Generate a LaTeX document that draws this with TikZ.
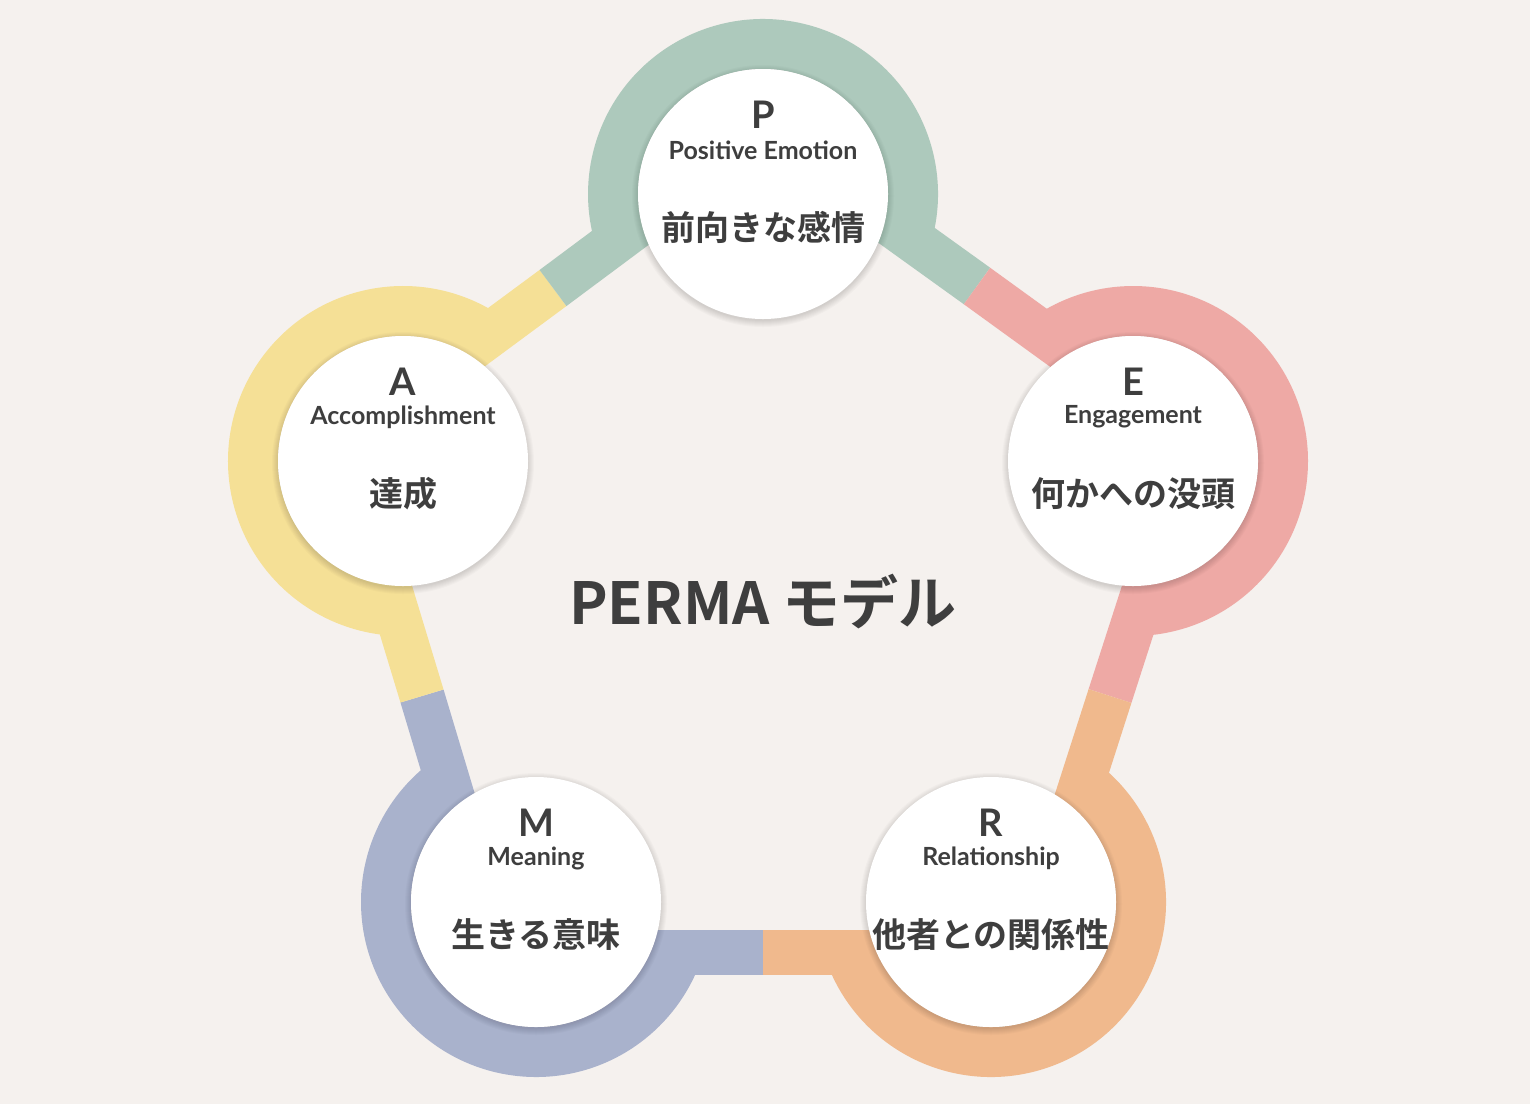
\documentclass[tikz,border=0pt]{standalone}
\usepackage{fontspec}
\setmainfont{Lato}
\newfontfamily\jp{Noto Sans CJK JP}[BoldFont={Noto Sans CJK JP Bold}]
\usetikzlibrary{calc}
\definecolor{bg}{HTML}{F5F1EE}
\definecolor{cP}{HTML}{ADC9BC}
\definecolor{cE}{HTML}{EEA9A5}
\definecolor{cR}{HTML}{F0B98D}
\definecolor{cM}{HTML}{A9B2CC}
\definecolor{cA}{HTML}{F5E096}
\definecolor{tx}{HTML}{3E3E3E}
\tikzset{
 band/.style={line width=45pt,line cap=butt},
 ringarc/.style={line width=50pt,line cap=butt},
 inner/.style={circle,fill=white,minimum size=250pt,inner sep=0pt},
 letter/.style={text=tx,font=\bfseries\fontsize{38}{38}\selectfont},
 eng/.style={text=tx,font=\bfseries\fontsize{25}{25}\selectfont},
 jap/.style={text=tx,font=\jp\bfseries\fontsize{34}{34}\selectfont},
}
\begin{document}
\begin{tikzpicture}[x=1pt,y=-1pt]
\fill[bg] (0,0) rectangle (1530,1104);
\useasboundingbox (0,0) rectangle (1530,1104);
\foreach \n/\x/\y in {P/763/194,E/1133/461,R/991/902,M/536/902,A/403/461}{
 \coordinate (c\n) at (\x,\y);
}
% bands
\draw[band,cP] (792,153) -- (977,286); \draw[band,cE] (977,286) -- (1162,420);
\draw[band,cE] (1181,476) -- (1110,696); \draw[band,cR] (1110,696) -- (1039,917);
\draw[band,cR] (991,952) -- (763,952); \draw[band,cM] (763,952) -- (536,952);
\draw[band,cM] (488,916) -- (422,696); \draw[band,cA] (422,696) -- (355,475);
\draw[band,cA] (373,421) -- (553,288); \draw[band,cP] (553,288) -- (733,154);
% ring arcs (math angles s -> e, counterclockwise)
\foreach \n/\s/\e/\c in {P/-16.3/197.1/cP,E/-88.3/124.7/cE,R/199.5/412.7/cR,M/126.3/340.5/cM,A/56.1/267.3/cA}{
 \draw[ringarc,\c] ($(c\n)+(-\s:150)$) arc[start angle=-\s,end angle=-\e,radius=150];
}
% soft shadows and white circles
\foreach \n in {P,E,R,M,A}{
 \foreach \k in {1,...,7}{
  \fill[black,opacity=0.018] ($(c\n)+(0,2)$) circle (124+\k);
 }
 \node[inner] (\n) at (c\n) {};
}
\foreach \n/\l/\e/\j in {P/P/Positive Emotion/前向きな感情,E/E/Engagement/何かへの没頭,R/R/Relationship/他者との関係性,M/M/Meaning/生きる意味,A/A/Accomplishment/達成}{
 \node[letter] (l\n) at ($(\n)+(0,-79)$) {\l};
 \node[eng] (e\n) at ($(\n)+(0,-44)$) {\e};
 \node[jap] (j\n) at ($(\n)+(0,33)$) {\j};
}
\node[text=tx,font=\jp\bfseries\fontsize{58}{58}\selectfont] (title) at (763,602) {PERMA モデル};
\end{tikzpicture}
\end{document}
